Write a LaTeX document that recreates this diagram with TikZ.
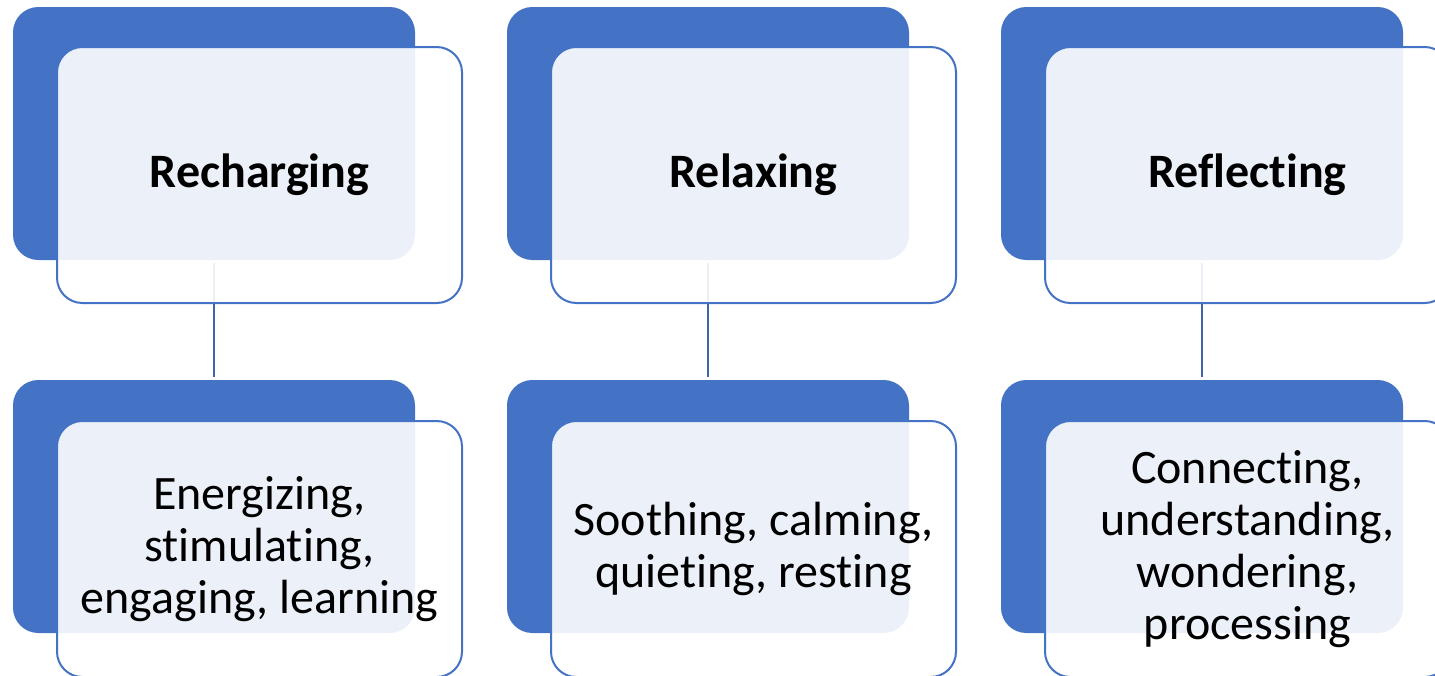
\documentclass[tikz,border=0pt]{standalone}
\usepackage{fontspec}
\setmainfont{Carlito}[Ligatures=NoCommon]
\usepackage{tikz}
\usetikzlibrary{positioning}
\usepackage{xcolor}
\definecolor{accent}{HTML}{4472C4}
\definecolor{linkline}{HTML}{3F63AD}

\tikzset{
  back/.style={fill=accent, rounded corners=19pt, minimum width=301.5pt, minimum height=189.75pt, inner sep=0pt},
  front/.style={draw=accent, line width=1.5pt, fill=white, fill opacity=0.9, text opacity=1, rounded corners=19pt,
    minimum width=303.75pt, minimum height=192pt, inner sep=0pt, align=center},
  head/.style={font=\bfseries\fontsize{36}{44}\selectfont},
  body/.style={font=\fontsize{36}{39}\selectfont},
  link/.style={draw=linkline, line width=1.5pt, shorten <=2.25pt, shorten >=2.25pt}
}

\begin{document}
\begin{tikzpicture}[x=0.75pt, y=-0.75pt]
       \useasboundingbox (0,0) rectangle (1435,675);

       \node[back] (recharge back) at ( 214, 133.5) {};
       \node[back] (relax back)    at ( 708, 133.5) {};
       \node[back] (reflect back)  at (1202, 133.5) {};
       \node[back] (energize back) at ( 214, 506.5) {};
       \node[back] (soothe back)   at ( 708, 506.5) {};
       \node[back] (connect back)  at (1202, 506.5) {};

       \draw[link] (recharge back.south) -- (energize back.north);
       \draw[link] (relax back.south)    -- (soothe back.north);
       \draw[link] (reflect back.south)  -- (connect back.north);

       \node[front, head] (recharge) at ( 259.5, 175) {Recharging};
       \node[front, head] (relax)    at ( 753.5, 175) {Relaxing};
       \node[front, head] (reflect)  at (1247.5, 175) {Reflecting};

       \node[front, body] (energize) at ( 259.5, 549) {Energizing,\\stimulating,\\engaging, learning};
       \node[front, body] (soothe)   at ( 753.5, 549) {Soothing, calming,\\quieting, resting};
       \node[front, body] (connect)  at (1247.5, 549) {Connecting,\\understanding,\\wondering,\\processing};
    \end{tikzpicture}
\end{document}
